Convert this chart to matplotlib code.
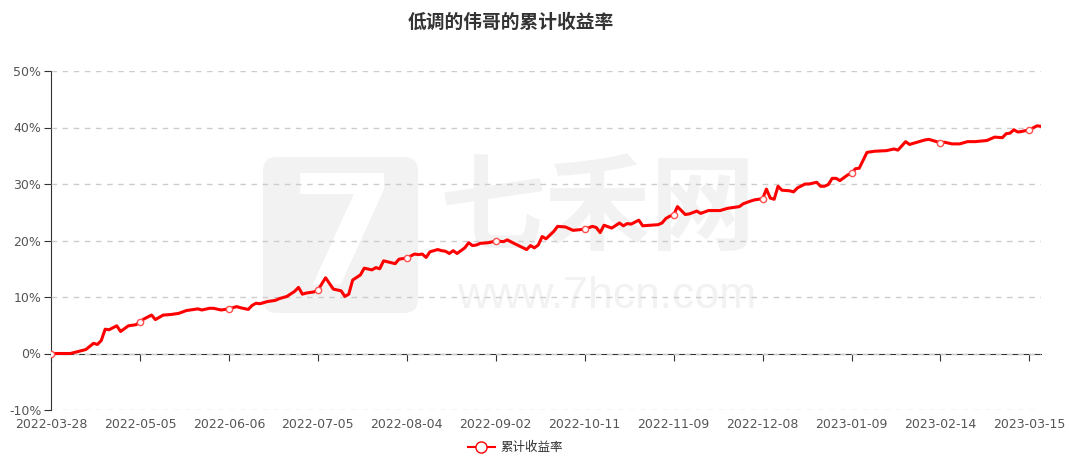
import numpy as np
import matplotlib
matplotlib.use('Agg')
from matplotlib import pyplot as plt
from matplotlib.patches import FancyBboxPatch
from matplotlib.lines import Line2D
from matplotlib.transforms import IdentityTransform

plt.rcParams['font.family'] = ['Noto Sans CJK SC', 'DejaVu Sans']

# x tick labels (every 23rd trading day)
tick_labels = ['2022-03-28', '2022-05-05', '2022-06-06', '2022-07-05', '2022-08-04', '2022-09-02',
               '2022-10-11', '2022-11-09', '2022-12-08', '2023-01-09', '2023-02-14', '2023-03-15']
tick_idx = [0, 23, 46, 69, 92, 115, 138, 161, 184, 207, 230, 253]
n_days = 257

# trading-day index and cumulative return (%)
day_idx = [0, 5, 7, 9, 11, 12, 13, 14, 15, 17, 18, 20, 22, 23, 24, 26, 27, 29, 31, 33,
           35, 37, 38, 39, 41, 42, 44, 46, 48, 49, 51, 52, 53, 54, 56, 58, 59, 61, 63, 64,
           65, 66, 68, 69, 71, 73, 75, 76, 77, 78, 80, 81, 83, 84, 85, 86, 89, 90, 92, 94,
           95, 96, 97, 98, 100, 101, 102, 103, 104, 105, 107, 108, 109, 110, 111, 113, 115, 117, 118, 120,
           123, 124, 125, 126, 127, 128, 130, 131, 133, 135, 138, 140, 141, 142, 143, 145, 147, 148, 149, 150,
           152, 153, 155, 157, 158, 159, 160, 161, 162, 164, 165, 167, 168, 170, 173, 175, 178, 179, 181, 182,
           184, 185, 186, 187, 188, 189, 191, 192, 193, 195, 196, 198, 199, 200, 201, 202, 203, 204, 206, 207,
           208, 209, 211, 213, 216, 218, 219, 221, 222, 224, 226, 227, 230, 231, 233, 235, 237, 239, 242, 244,
           246, 247, 248, 249, 250, 251, 253, 255, 256]
cum_ret = [0.0, 0.0, 0.35, 0.7, 1.8, 1.6, 2.3, 4.3, 4.2, 4.9, 3.9, 4.9, 5.1, 5.6, 6.1, 6.8, 6.0, 6.8, 6.9, 7.1,
           7.6, 7.8, 7.9, 7.7, 8.0, 8.0, 7.7, 7.9, 8.3, 8.1, 7.8, 8.5, 8.9, 8.8, 9.2, 9.4, 9.7, 10.1, 11.0, 11.7,
           10.5, 10.7, 10.9, 11.2, 13.4, 11.4, 11.1, 10.1, 10.5, 13.0, 13.9, 15.1, 14.8, 15.2, 15.0, 16.4, 15.9, 16.7, 16.9, 17.6,
           17.5, 17.6, 17.0, 18.0, 18.4, 18.2, 18.1, 17.7, 18.2, 17.7, 18.7, 19.6, 19.1, 19.2, 19.5, 19.6, 19.9, 19.8, 20.1, 19.4,
           18.4, 19.1, 18.7, 19.2, 20.7, 20.3, 21.6, 22.5, 22.4, 21.8, 22.0, 22.5, 22.3, 21.4, 22.7, 22.2, 23.1, 22.6, 23.0, 22.9,
           23.6, 22.6, 22.7, 22.8, 23.1, 23.9, 24.3, 24.5, 26.0, 24.6, 24.7, 25.2, 24.8, 25.3, 25.3, 25.7, 26.0, 26.5, 27.0, 27.2,
           27.4, 29.1, 27.5, 27.3, 29.6, 28.9, 28.8, 28.6, 29.3, 30.0, 30.0, 30.3, 29.6, 29.6, 29.9, 31.0, 31.0, 30.6, 31.6, 31.9,
           32.7, 32.8, 35.6, 35.8, 35.9, 36.2, 36.0, 37.5, 37.0, 37.4, 37.8, 37.9, 37.3, 37.4, 37.1, 37.1, 37.5, 37.5, 37.7, 38.3,
           38.2, 38.9, 39.0, 39.6, 39.2, 39.3, 39.6, 40.3, 40.2]

y_ticks = [-10, 0, 10, 20, 30, 40, 50]

fig = plt.figure(figsize=(10.69, 4.68), dpi=100)
ax = fig.add_axes([51 / 1069, 1 - 410 / 468, 990 / 1069, 339 / 468])

# watermark (pixel coordinates, origin bottom-left), kept behind the grid and line
wm = '#f2f2f2'
px = IdentityTransform()
ax.add_patch(FancyBboxPatch((263, 155), 155, 156, boxstyle='round,pad=0,rounding_size=14',
                            transform=px, facecolor=wm, edgecolor='none', zorder=0))
ax.text(343, 226, '7', transform=px, color='white', fontsize=110, fontweight='bold',
        family='DejaVu Sans', ha='center', va='center', zorder=0.5)
ax.text(598, 257, '七禾网', transform=px, color=wm, fontsize=76, fontweight='bold',
        ha='center', va='center', zorder=0.5)
ax.text(607, 172, 'www.7hcn.com', transform=px, color=wm, fontsize=32,
        family='Liberation Sans', ha='center', va='center', zorder=0.5)

ax.plot(day_idx, cum_ret, color='#ff0000', lw=2.2, zorder=3, solid_joinstyle='round')
mk = [i for i, d in enumerate(day_idx) if d in tick_idx]
ax.plot([day_idx[i] for i in mk], [cum_ret[i] for i in mk], ls='none', marker='o', ms=4.5,
        mfc='white', mec='#ff5050', mew=1, zorder=4)

ax.set_xlim(0, n_days - 1)
ax.set_ylim(-10, 50)
ax.set_yticks(y_ticks)
ax.set_yticklabels([f'{v}%' for v in y_ticks], family='DejaVu Sans')
ax.yaxis.grid(True, color='#cccccc', ls=(0, (4, 4)), lw=1, zorder=1)
ax.set_axisbelow(False)

for s in ['top', 'right']:
    ax.spines[s].set_visible(False)
ax.spines['left'].set_color('#333333')
ax.spines['bottom'].set_position(('data', 0))
ax.spines['bottom'].set_color('#333333')
ax.spines['bottom'].set_zorder(2)
ax.set_xticks(tick_idx)
ax.tick_params(axis='x', direction='out', length=5, color='#333333', labelbottom=False)
ax.tick_params(axis='y', direction='out', length=5, color='#333333', labelsize=9,
               labelcolor='#555555', pad=2)

sec = ax.secondary_xaxis('bottom')
sec.set_xticks(tick_idx)
sec.set_xticklabels(tick_labels, family='DejaVu Sans')
sec.tick_params(length=0, pad=6, labelsize=9, labelcolor='#555555')
sec.spines['bottom'].set_visible(False)

fig.text(511 / 1069, 1 - 22 / 468, '低调的伟哥的累计收益率', ha='center', va='center',
         fontsize=13.5, fontweight='bold', color='#333333')

h = Line2D([], [], color='#ff0000', lw=1.5, marker='o', ms=8, mfc='white', mec='#ff0000')
fig.legend([h], ['累计收益率'], loc='center', bbox_to_anchor=(515 / 1069, 1 - 448 / 468),
           frameon=False, fontsize=9, handlelength=2.2, handletextpad=0.4, labelcolor='#333333')

fig.savefig('out.png', dpi=100)
